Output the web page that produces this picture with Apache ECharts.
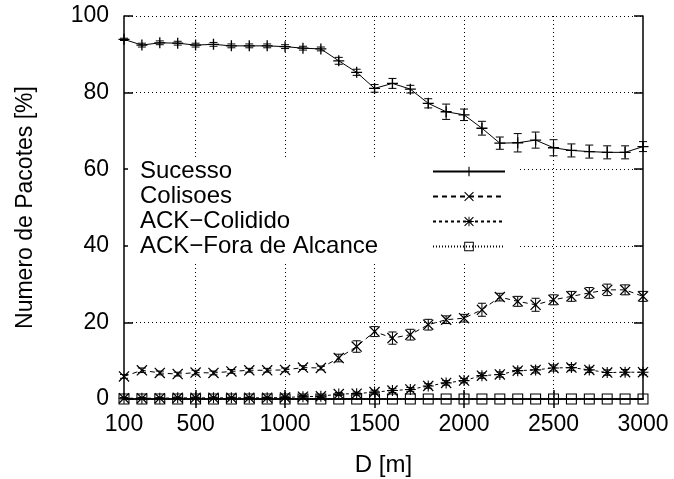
<!DOCTYPE html>
<html>
<head>
<meta charset="utf-8">
<script src="https://cdn.jsdelivr.net/npm/echarts@6/dist/echarts.min.js"></script>
<style>
  html, body { margin: 0; padding: 0; background: #fff; }
  #main { width: 674px; height: 479px; }
</style>
</head>
<body>
<div id="main"></div>
<script>
  // distancias D [m]
  var distancias = [100,200,300,400,500,600,700,800,900,1000,1100,1200,1300,1400,1500,
                    1600,1700,1800,1900,2000,2100,2200,2300,2400,2500,2600,2700,2800,2900,3000];
  var xTickLabels = [100,500,1000,1500,2000,2500,3000];
  var xGridTicks = [500,1000,1500,2000,2500];

  // Sucesso
  var sucesso = [93.9,92.4,93.0,92.9,92.4,92.6,92.2,92.2,92.2,92.0,91.6,91.4,88.3,85.3,81.1,
                 82.4,80.9,77.2,75.0,74.2,70.7,66.8,66.9,67.6,65.6,64.9,64.6,64.4,64.4,65.9];
  var sucessoErr = [0.3,0.5,0.5,0.5,0.5,0.5,0.5,0.5,0.5,0.5,0.5,0.5,0.9,0.8,1.0,
                    1.3,1.0,1.2,2.0,1.5,1.8,1.6,2.4,2.1,2.1,1.7,1.7,1.7,1.7,1.3];
  // Colisoes
  var colisoes = [5.9,7.5,6.8,6.5,6.9,6.8,7.2,7.5,7.5,7.6,8.2,8.1,10.7,13.7,17.6,
                  15.9,16.8,19.4,20.7,21.1,23.3,26.6,25.5,24.6,25.9,26.8,27.7,28.5,28.5,26.8];
  var colisoesErr = [0.5,0.6,0.5,0.5,0.6,0.5,0.5,0.5,0.5,0.5,0.5,0.5,1.0,1.5,1.3,
                     1.6,1.4,1.4,1.0,1.0,1.7,1.0,1.3,1.7,1.3,1.3,1.4,1.5,1.3,1.3];
  // ACK-Colidido
  var ackColidido = [0.2,0.2,0.2,0.3,0.3,0.3,0.3,0.3,0.3,0.4,0.6,0.7,1.3,1.4,1.8,
                     2.2,2.5,3.4,4.2,4.8,6.1,6.4,7.4,7.6,8.1,8.2,7.6,6.9,7.0,7.0];
  var ackColididoErr = [0.2,0.2,0.2,0.2,0.2,0.2,0.2,0.2,0.2,0.3,0.3,0.3,0.4,0.4,0.5,
                        0.5,0.5,0.6,0.6,0.6,0.7,0.7,0.7,0.8,0.8,0.8,0.7,0.7,0.7,0.7];
  // ACK-Fora de Alcance
  var ackFora = [0,0,0,0,0,0,0,0,0,0,0,0,0,0,0,0,0,0,0,0,0,0,0,0,0,0,0,0,0,0];

  var FONT = 'Liberation Sans';

  var symPlus = 'path://M0,4.4H10V5.6H0Z M4.4,0H5.6V10H4.4Z';
  var symCross = 'path://M0.8,0L5,4.2L9.2,0L10,0.8L5.8,5L10,9.2L9.2,10L5,5.8L0.8,10L0,9.2L4.2,5L0,0.8Z';
  var symStar = symCross + ' M0,4.5H10V5.5H0Z M4.5,0H5.5V10H4.5Z';
  var symSquare = 'path://M0,0H10V10H0Z M1,1V9H9V1Z';

  function pares(vals, errs) {
    return distancias.map(function (d, i) { return [d, vals[i], errs ? errs[i] : 0]; });
  }

  // barras de erro
  function barras(vals, errs) {
    return {
      type: 'custom',
      data: pares(vals, errs),
      z: 3,
      renderItem: function (params, api) {
        var x = api.value(0), y = api.value(1), e = api.value(2);
        var p1 = api.coord([x, y + e]);
        var p2 = api.coord([x, y - e]);
        var w = 4;
        var st = { stroke: '#000', lineWidth: 1 };
        return {
          type: 'group',
          children: [
            { type: 'line', shape: { x1: p1[0], y1: p1[1], x2: p2[0], y2: p2[1] }, style: st },
            { type: 'line', shape: { x1: p1[0] - w, y1: p1[1], x2: p1[0] + w, y2: p1[1] }, style: st },
            { type: 'line', shape: { x1: p2[0] - w, y1: p2[1], x2: p2[0] + w, y2: p2[1] }, style: st }
          ]
        };
      }
    };
  }

  function linha(nome, vals, sym, size, dash) {
    return {
      name: nome,
      type: 'line',
      data: pares(vals),
      symbol: sym,
      symbolSize: size,
      showAllSymbol: true,
      z: 4,
      itemStyle: { color: '#000', borderWidth: 0 },
      lineStyle: { color: '#000', width: 1, type: dash },
      emphasis: { disabled: true },
      animation: false
    };
  }

  var semSeparador = function (v) { return String(v); };

  var myChart = echarts.init(document.getElementById('main'));
  var option = {
    backgroundColor: '#fff',
    animation: false,
    textStyle: { fontFamily: FONT, color: '#000' },
    grid: { left: 124, right: 31, top: 16, bottom: 80, show: false, outerBoundsMode: 'none' },
    legend: {
      data: ['Sucesso', 'Colisoes', 'ACK\u2212Colidido', 'ACK\u2212Fora de Alcance'],
      orient: 'vertical',
      left: 128,
      top: 157,
      padding: [2, 13, 2, 12],
      backgroundColor: '#fff',
      align: 'right',
      itemWidth: 72,
      itemHeight: 12,
      itemGap: 0,
      selectedMode: false,
      formatter: function (name) { return '{t|' + name + '}'; },
      textStyle: {
        fontFamily: FONT, fontSize: 24, color: '#000', lineHeight: 25,
        rich: { t: { width: 288, align: 'left', fontFamily: FONT, fontSize: 24, color: '#000', lineHeight: 25 } }
      }
    },
    xAxis: [
      {
        type: 'value',
        min: 100,
        max: 3000,
        name: 'D [m]',
        nameLocation: 'middle',
        nameGap: 54,
        nameTextStyle: { fontFamily: FONT, fontSize: 24, color: '#000' },
        axisLine: { show: true, lineStyle: { color: '#000', width: 1.5 } },
        axisTick: { show: true, inside: true, length: 9, customValues: xGridTicks, lineStyle: { color: '#000', width: 1.5 } },
        axisLabel: { customValues: xTickLabels, formatter: semSeparador, margin: 14, fontFamily: FONT, fontSize: 23, color: '#000' },
        splitLine: { show: true, customValues: xGridTicks, lineStyle: { color: '#000', width: 1, type: [1, 3] } }
      },
      {
        type: 'value',
        position: 'top',
        min: 100,
        max: 3000,
        axisLine: { show: true, lineStyle: { color: '#000', width: 1.5 } },
        axisTick: { show: true, inside: true, length: 9, customValues: xGridTicks, lineStyle: { color: '#000', width: 1.5 } },
        axisLabel: { show: false },
        splitLine: { show: false }
      }
    ],
    yAxis: [
      {
        type: 'value',
        min: 0,
        max: 100,
        interval: 20,
        name: 'Numero de Pacotes [%]',
        nameLocation: 'middle',
        nameGap: 87,
        nameTextStyle: { fontFamily: FONT, fontSize: 23, color: '#000' },
        axisLine: { show: true, lineStyle: { color: '#000', width: 1.5 } },
        axisTick: { show: true, inside: true, length: 9, lineStyle: { color: '#000', width: 1.5 } },
        axisLabel: { margin: 15, formatter: semSeparador, fontFamily: FONT, fontSize: 23, color: '#000' },
        splitLine: { show: true, lineStyle: { color: '#000', width: 1, type: [1, 3] } }
      },
      {
        type: 'value',
        position: 'right',
        min: 0,
        max: 100,
        interval: 20,
        axisLine: { show: true, lineStyle: { color: '#000', width: 1.5 } },
        axisTick: { show: true, inside: true, length: 9, lineStyle: { color: '#000', width: 1.5 } },
        axisLabel: { show: false },
        splitLine: { show: false }
      }
    ],
    series: [
      linha('Sucesso', sucesso, symPlus, 11, 'solid'),
      barras(sucesso, sucessoErr),
      linha('Colisoes', colisoes, symCross, 11, [5, 4]),
      barras(colisoes, colisoesErr),
      linha('ACK\u2212Colidido', ackColidido, symStar, 11, [3, 3]),
      barras(ackColidido, ackColididoErr),
      linha('ACK\u2212Fora de Alcance', ackFora, symSquare, 11, [1, 2])
    ]
  };
  myChart.setOption(option);
</script>
</body>
</html>
